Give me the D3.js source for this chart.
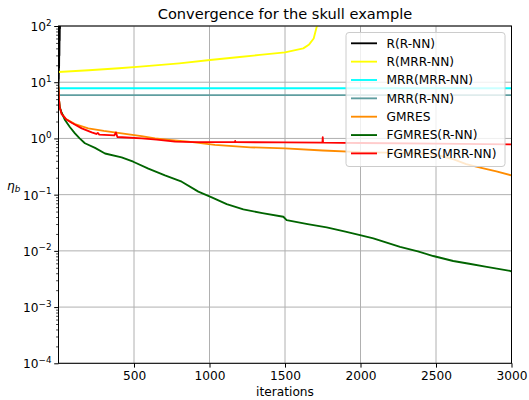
<!DOCTYPE html>
<html><head><meta charset="utf-8">
<script src="https://cdn.jsdelivr.net/npm/d3@7"></script>
<style>body{margin:0;background:#fff}svg{display:block;font-family:"DejaVu Sans",sans-serif}</style>
</head><body><svg id="c" width="529" height="400"></svg>
<script>
const title = "Convergence for the skull example";
const xTicks = [500, 1000, 1500, 2000, 2500, 3000];
const yTickExps = [-4, -3, -2, -1, 0, 1, 2];
const seriesNames = ["R(R-NN)", "R(MRR-NN)", "MRR(MRR-NN)", "MRR(R-NN)", "GMRES", "FGMRES(R-NN)", "FGMRES(MRR-NN)"];
const seriesColors = ["#000000", "#ffff00", "#00ffff", "#5f9ea0", "#ff8c00", "#006400", "#ff0000"];

const itRR = [0,1,2,3,4,5,6,7,8,9,10,11,12,13,14];
const valRR = [8,14,11,25,18,45,30,80,55,140,90,250,180,500,1000];

const itRMRR = [0,200,400,540,800,1003,1200,1334,1500,1621,1660,1690,1710,1725,1740];
const valRMRR = [15.2,16.3,17.7,18.9,21.7,24.8,28.1,30.6,34,40,47,60,97,150,250];

const itMRRMRR = [0,3000];
const valMRRMRR = [7.8,7.8];

const itMRRR = [0,3000];
const valMRRR = [5.9,5.9];

const itGM = [0,3,8,21,50,109,197,300,418,550,639,750,860,1036,1270,1500,1750,2000,2250,2400,2500,2600,2700,2800,2900,3000];
const valGM = [8,5,3.6,2.8,2.2,1.8,1.51,1.36,1.23,1.1,1.0,0.93,0.875,0.77,0.695,0.665,0.61,0.57,0.555,0.54,0.51,0.44,0.35,0.30,0.26,0.22];

const itFR = [0,3,8,20,43,75,109,140,175,242,308,418,495,595,705,816,926,1015,1114,1224,1350,1489,1511,1650,1776,1900,1997,2085,2262,2380,2482,2614,2720,2836,2990,3000];
const valFR = [8,5,3.6,2.9,2.12,1.6,1.23,1.0,0.82,0.68,0.54,0.46,0.385,0.29,0.22,0.17,0.113,0.0895,0.068,0.0547,0.047,0.0404,0.0353,0.030,0.0262,0.022,0.0191,0.0167,0.0118,0.0098,0.0081,0.0066,0.0059,0.0052,0.0044,0.0043];

const itFM = [0,3,8,21,50,87,154,220,250,260,270,370,380,390,450,551,650,772,900,1036,1168,1170,1172,1500,1748,1750,1752,2000,2500,3000];
const valFM = [8,5,3.6,2.7,2.2,1.9,1.51,1.28,1.2,1.25,1.17,1.13,1.28,1.06,1.04,1.0,0.95,0.875,0.86,0.86,0.86,0.9,0.86,0.85,0.84,1.05,0.84,0.83,0.81,0.785];

const seriesIts = [itRR, itRMRR, itMRRMRR, itMRRR, itGM, itFR, itFM];
const seriesVals = [valRR, valRMRR, valMRRMRR, valMRRR, valGM, valFR, valFM];

const svg = d3.select("#c");
const L = 58.5, R = 511.5, T = 26, B = 363.3;
const x = d3.scaleLinear().domain([0, 3000]).range([L, R]);
const y = d3.scaleLog().domain([1e-4, 1e2]).range([B, T]);

// grid
const grid = svg.append("g").attr("stroke", "#b0b0b0").attr("stroke-width", 1);
xTicks.forEach(t => grid.append("line").attr("x1", x(t)).attr("x2", x(t)).attr("y1", T).attr("y2", B));
yTickExps.forEach(e => grid.append("line").attr("x1", L).attr("x2", R).attr("y1", y(Math.pow(10, e))).attr("y2", y(Math.pow(10, e))));

svg.append("defs").append("clipPath").attr("id", "clip").append("rect").attr("x", L).attr("y", T).attr("width", R - L).attr("height", B - T);

const line = d3.line().x(d => x(d[0])).y(d => y(d[1]));
const plot = svg.append("g").attr("clip-path", "url(#clip)");
seriesNames.forEach((n, i) => {
  const pts = seriesIts[i].map((t, k) => [t, seriesVals[i][k]]);
  plot.append("path").datum(pts).attr("d", line).attr("fill", "none")
    .attr("stroke", seriesColors[i]).attr("stroke-width", 1.85).attr("stroke-linejoin", "round").attr("stroke-linecap", "square");
});

// axes
const fs = 12.2;
const xAxis = d3.axisBottom(x).tickValues(xTicks).tickSize(4.3).tickPadding(4).tickFormat(d3.format("d"));
const gx = svg.append("g").attr("transform", `translate(0,${B})`).call(xAxis);
gx.select(".domain").remove();
gx.selectAll("text").attr("font-size", fs).attr("font-family", "DejaVu Sans").attr("fill", "#000");
gx.selectAll("line").attr("stroke", "#000").attr("stroke-width", 1);

const minorVals = [];
for (let e = -4; e < 2; e++) for (let m = 2; m <= 9; m++) minorVals.push(m * Math.pow(10, e));
const gyMinor = svg.append("g").attr("transform", `translate(${L},0)`)
  .call(d3.axisLeft(y).tickValues(minorVals).tickSize(2.4).tickFormat(""));
gyMinor.select(".domain").remove();
gyMinor.selectAll("line").attr("stroke", "#000").attr("stroke-width", 0.75);

const gy = svg.append("g").attr("transform", `translate(${L},0)`)
  .call(d3.axisLeft(y).tickValues(yTickExps.map(e => Math.pow(10, e))).tickSize(4.3).tickFormat(""));
gy.select(".domain").remove();
gy.selectAll("line").attr("stroke", "#000").attr("stroke-width", 1);
gy.selectAll(".tick").each(function(d) {
  const e = Math.round(Math.log10(d));
  const t = d3.select(this).append("text").attr("x", -7).attr("y", 4.5).attr("text-anchor", "end")
    .attr("font-size", fs).attr("fill", "#000").attr("font-family", "DejaVu Sans");
  t.append("tspan").text("10");
  t.append("tspan").attr("dy", -5.5).attr("font-size", fs * 0.72).text(e < 0 ? "\u2212" + Math.abs(e) : String(e));
});

// spines
svg.append("rect").attr("x", L).attr("y", T).attr("width", R - L).attr("height", B - T)
  .attr("fill", "none").attr("stroke", "#000").attr("stroke-width", 1);

// title and labels
svg.append("text").attr("x", (L + R) / 2).attr("y", 18.5).attr("text-anchor", "middle").attr("font-size", 14.6).text(title);
svg.append("text").attr("x", (L + R) / 2).attr("y", 396).attr("text-anchor", "middle").attr("font-size", fs).text("iterations");
const yl = svg.append("text").attr("x", 7).attr("y", 190).attr("font-size", fs);
yl.append("tspan").attr("font-style", "italic").text("\u03b7");
yl.append("tspan").attr("dy", 2).attr("font-size", fs * 0.72).attr("font-style", "italic").text("b");

// legend
const lg = svg.append("g");
lg.append("rect").attr("x", 346).attr("y", 32.5).attr("width", 159).attr("height", 134).attr("rx", 3)
  .attr("fill", "#fff").attr("fill-opacity", 0.8).attr("stroke", "#cccccc").attr("stroke-width", 1);
seriesNames.forEach((n, i) => {
  const yy = 43.3 + i * 18.35;
  lg.append("line").attr("x1", 351).attr("x2", 377).attr("y1", yy).attr("y2", yy)
    .attr("stroke", seriesColors[i]).attr("stroke-width", 1.85);
  lg.append("text").attr("x", 386.5).attr("y", yy + 4.3).attr("font-size", fs).attr("fill", "#000").text(n);
});
</script></body></html>
